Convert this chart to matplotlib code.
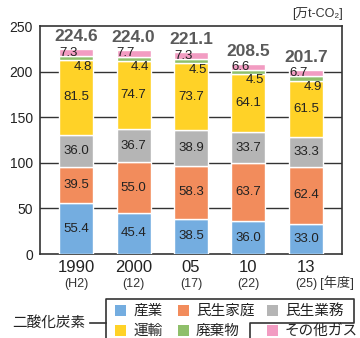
import matplotlib
matplotlib.use("Agg")
import matplotlib.pyplot as plt
from matplotlib.patches import Rectangle
from matplotlib.lines import Line2D
import numpy as np

plt.rcParams['font.family'] = ['Liberation Sans', 'Noto Sans CJK JP', 'DejaVu Sans']

years = ["1990", "2000", "05", "10", "13"]
eras = ["(H2)", "(12)", "(17)", "(22)", "(25)"]
industry = [55.4, 45.4, 38.5, 36.0, 33.0]
household = [39.5, 55.0, 58.3, 63.7, 62.4]
commercial = [36.0, 36.7, 38.9, 33.7, 33.3]
transport = [81.5, 74.7, 73.7, 64.1, 61.5]
waste = [4.8, 4.4, 4.5, 4.5, 4.9]
other = [7.3, 7.7, 7.3, 6.6, 6.7]
totals = [224.6, 224.0, 221.1, 208.5, 201.7]
series_names = ["産業", "民生家庭", "民生業務", "運輸", "廃棄物", "その他ガス"]
colors = ["#74ade0", "#f28c5c", "#b5b5b5", "#ffd227", "#8fbf6a", "#f29cc2"]

W, H = 360, 338
fig = plt.figure(figsize=(W / 100, H / 100), dpi=100)
ax = fig.add_axes([40 / W, 1 - 254 / H, 302 / W, 228 / H])

x = np.arange(len(years))
bw = 0.59
series = [industry, household, commercial, transport, waste, other]
bottom = np.zeros(len(years))
for vals, c in zip(series, colors):
    ax.bar(x, vals, bw, bottom=bottom, color=c, edgecolor="white", linewidth=1.0, zorder=3)
    bottom += np.array(vals)

# labels for big segments
bottom = np.zeros(len(years))
for vals in series[:4]:
    for i, v in enumerate(vals):
        ax.text(x[i], bottom[i] + v / 2, f"{v:.1f}", ha="center", va="center",
                fontsize=9.5, color="#222222", zorder=5)
    bottom += np.array(vals)

# small segment labels and totals
for i in range(len(years)):
    wb = bottom[i]
    ob = wb + waste[i]
    ax.text(x[i] + bw / 2 - 0.02, wb - 0.6, f"{waste[i]:.1f}", ha="right", va="top",
            fontsize=9.5, color="#222222", zorder=5)
    ax.text(x[i] - bw / 2, ob + other[i] / 2, f"{other[i]:.1f}", ha="left", va="center",
            fontsize=9.5, color="#222222", zorder=5)
    ax.text(x[i], totals[i] + 5.5, f"{totals[i]:.1f}", ha="center", va="bottom",
            fontsize=12.5, fontweight="bold", color="#5a5a5a", zorder=5)

ax.set_xlim(-0.63, 4.63)
ax.set_ylim(0, 250)
ax.set_yticks([0, 50, 100, 150, 200, 250])
ax.tick_params(axis="y", length=0, labelsize=10, pad=5, colors="#222222")
ax.set_xticks(x)
ax.set_xticklabels(years, fontsize=12, color="#222222")
ax.tick_params(axis="x", length=0, pad=4)
for yv in [50, 100, 150, 200]:
    ax.axhline(yv, color="#333333", lw=1.0, zorder=1)
for s in ax.spines.values():
    s.set_color("#333333")
    s.set_linewidth(1.2)

for i in range(len(years)):
    ax.text(x[i], -0.13, eras[i], transform=ax.get_xaxis_transform(), ha="center", va="center",
            fontsize=9, color="#333333")
fig.text(320 / W, 1 - 283 / H, "[年度]", ha="left", va="center", fontsize=9.5, color="#333333")
fig.text(343 / W, 1 - 14 / H, "[万t-CO₂]", ha="right", va="center", fontsize=9, color="#333333")

# legend
fig.text(85 / W, 1 - 323 / H, "二酸化炭素", ha="right", va="center", fontsize=10.5, color="#222222")
lc = "#333333"
fig.add_artist(Line2D([90 / W, 106 / W], [1 - 323 / H, 1 - 323 / H], transform=fig.transFigure, color=lc, lw=1.2))
px = [106, 106, 354, 354, 250, 250]
py = [345, 299, 299, 323, 323, 345]
fig.add_artist(Line2D([p / W for p in px], [1 - q / H for q in py], transform=fig.transFigure, color=lc, lw=1.2))

leg_pos = [(115, 311), (178, 311), (267, 311), (115, 331), (178, 331), (267, 331)]
for (lx, ly), name, c in zip(leg_pos, series_names, colors):
    fig.add_artist(Rectangle((lx / W, 1 - (ly + 5) / H), 11 / W, 11 / H, transform=fig.transFigure,
                             facecolor=c, edgecolor="none"))
    fig.text((lx + 18) / W, 1 - ly / H, name, ha="left", va="center", fontsize=10.5, color="#222222")

fig.savefig("out.png", dpi=100)
